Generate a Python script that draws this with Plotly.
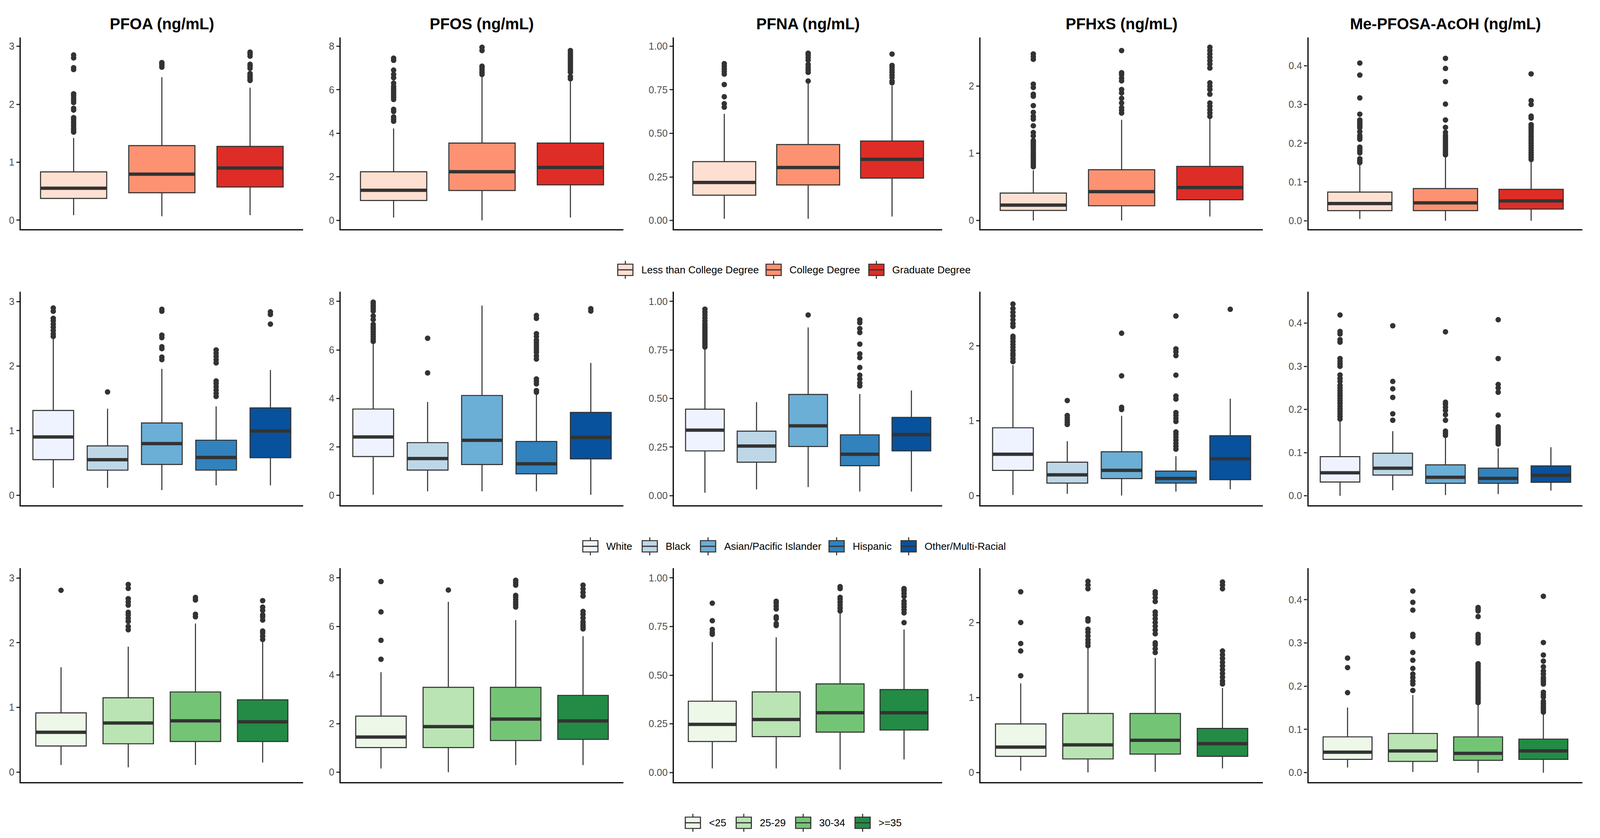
import plotly.graph_objects as go

# ---------------- data ----------------
analytes = ["PFOA", "PFOS", "PFNA", "PFHxS", "Me-PFOSA-AcOH"]

education = ["Less than College Degree", "College Degree", "Graduate Degree"]
race = ["White", "Black", "Asian/Pacific Islander", "Hispanic", "Other/Multi-Racial"]
age = ["<25", "25-29", "30-34", ">=35"]

reds = ["#FEE0D2", "#FC9272", "#DE2D26"]
blues = ["#EFF3FF", "#BDD7E7", "#6BAED6", "#3182BD", "#08519C"]
greens = ["#EDF8E9", "#BAE4B3", "#74C476", "#238B45"]

tick_vals = [[0, 1, 2, 3], [0, 2, 4, 6, 8], [0, 0.25, 0.5, 0.75, 1.0], [0, 1, 2], [0, 0.1, 0.2, 0.3, 0.4]]
tick_text = [["0", "1", "2", "3"], ["0", "2", "4", "6", "8"],
             ["0.00", "0.25", "0.50", "0.75", "1.00"], ["0", "1", "2"],
             ["0.0", "0.1", "0.2", "0.3", "0.4"]]
y_ranges = [[-0.155, 3.152], [-0.41, 8.4], [-0.05, 1.05], [-0.13, 2.725], [-0.022, 0.473]]

# education: one list per analyte, one value per group
edu_low = [[0.088, 0.069, 0.088], [0.13, 0.0, 0.13], [0.010, 0.010, 0.023], [0.0, 0.0, 0.059], [0.0045, 0.0, 0.0]]
edu_q1 = [[0.376, 0.474, 0.573], [0.91, 1.37, 1.63], [0.145, 0.204, 0.243], [0.15, 0.219, 0.308], [0.026, 0.026, 0.030]]
edu_med = [[0.552, 0.794, 0.90], [1.38, 2.23, 2.43], [0.218, 0.304, 0.351], [0.229, 0.429, 0.491], [0.0443, 0.046, 0.051]]
edu_q3 = [[0.834, 1.287, 1.274], [2.23, 3.55, 3.55], [0.338, 0.436, 0.456], [0.409, 0.756, 0.805], [0.0738, 0.083, 0.081]]
edu_high = [[1.42, 2.467, 2.286], [4.22, 6.64, 6.41], [0.612, 0.786, 0.773], [0.746, 1.50, 1.516], [0.146, 0.166, 0.154]]
edu_out = [
    [[1.52, 1.55, 1.58, 1.62, 1.66, 1.70, 1.74, 1.77, 1.90, 1.93, 2.03, 2.07, 2.11, 2.15, 2.18, 2.60, 2.63, 2.80, 2.85],
     [2.64, 2.67, 2.70, 2.72],
     [2.41, 2.44, 2.47, 2.50, 2.53, 2.62, 2.66, 2.69, 2.83, 2.87, 2.90]],
    [[4.55, 4.65, 4.75, 5.0, 5.1, 5.55, 5.65, 5.75, 5.85, 5.95, 6.05, 6.15, 6.3, 6.55, 6.7, 6.9, 7.35, 7.45],
     [6.7, 6.8, 6.9, 7.0, 7.08, 7.8, 7.95],
     [6.5, 6.6, 6.8, 6.9, 7.0, 7.1, 7.2, 7.3, 7.4, 7.5, 7.6, 7.7, 7.8]],
    [[0.65, 0.67, 0.71, 0.78, 0.84, 0.855, 0.87, 0.885, 0.90],
     [0.80, 0.85, 0.865, 0.88, 0.895, 0.92, 0.935, 0.95, 0.96],
     [0.79, 0.80, 0.82, 0.835, 0.85, 0.865, 0.88, 0.89, 0.955]],
    [[0.80, 0.83, 0.86, 0.89, 0.92, 0.95, 0.98, 1.01, 1.04, 1.07, 1.10, 1.13, 1.16, 1.19, 1.26, 1.31, 1.41,
      1.51, 1.55, 1.61, 1.71, 1.85, 1.88, 1.98, 2.03, 2.40, 2.44, 2.48],
     [1.6, 1.64, 1.68, 1.75, 1.82, 1.9, 1.95, 2.08, 2.12, 2.17, 2.2, 2.53],
     [1.55, 1.6, 1.65, 1.7, 1.75, 1.88, 1.95, 2.0, 2.05, 2.27, 2.33, 2.38, 2.43, 2.48, 2.53, 2.58]],
    [[0.15, 0.155, 0.16, 0.175, 0.18, 0.185, 0.19, 0.21, 0.215, 0.22, 0.23, 0.24, 0.245, 0.25, 0.255, 0.26,
      0.275, 0.317, 0.376, 0.407],
     [0.17, 0.175, 0.18, 0.185, 0.19, 0.195, 0.2, 0.205, 0.21, 0.215, 0.22, 0.228, 0.241, 0.26, 0.301, 0.359,
      0.393, 0.419],
     [0.158, 0.164, 0.17, 0.176, 0.182, 0.188, 0.194, 0.2, 0.206, 0.212, 0.218, 0.224, 0.23, 0.236, 0.242,
      0.248, 0.265, 0.27, 0.3, 0.31, 0.379]],
]

race_low = [[0.115, 0.115, 0.081, 0.154, 0.154], [0.025, 0.166, 0.166, 0.166, 0.025],
            [0.015, 0.032, 0.044, 0.021, 0.021], [0.008, 0.024, 0.0, 0.054, 0.084],
            [0.0, 0.0128, 0.0017, 0.004, 0.0121]]
race_q1 = [[0.551, 0.389, 0.477, 0.389, 0.581], [1.60, 1.04, 1.27, 0.89, 1.505],
           [0.230, 0.172, 0.253, 0.154, 0.230], [0.337, 0.167, 0.227, 0.167, 0.213],
           [0.0319, 0.048, 0.029, 0.029, 0.0312]]
race_med = [[0.903, 0.551, 0.80, 0.585, 0.995], [2.41, 1.518, 2.27, 1.30, 2.39],
            [0.337, 0.255, 0.359, 0.213, 0.314], [0.552, 0.277, 0.337, 0.229, 0.492],
            [0.0533, 0.064, 0.0429, 0.0405, 0.0474]]
race_q3 = [[1.313, 0.765, 1.12, 0.853, 1.353], [3.56, 2.175, 4.12, 2.22, 3.42],
           [0.445, 0.332, 0.521, 0.313, 0.403], [0.906, 0.446, 0.586, 0.327, 0.80],
           [0.0907, 0.0987, 0.0717, 0.064, 0.0693]]
race_high = [[2.447, 1.341, 1.958, 1.376, 1.94], [6.32, 3.85, 7.83, 4.16, 5.46],
             [0.760, 0.4815, 0.866, 0.523, 0.541], [1.743, 0.727, 1.066, 0.526, 1.295],
             [0.1756, 0.1496, 0.1347, 0.1098, 0.1126]]
race_out = [
    [[2.46, 2.5, 2.55, 2.6, 2.65, 2.7, 2.74, 2.85, 2.9],
     [1.6],
     [2.1, 2.14, 2.27, 2.3, 2.44, 2.48, 2.85, 2.88],
     [1.53, 1.58, 1.63, 1.68, 1.73, 1.77, 2.05, 2.1, 2.15, 2.2, 2.25],
     [2.65, 2.8, 2.84]],
    [[6.35, 6.45, 6.55, 6.65, 6.75, 6.85, 6.95, 7.05, 7.25, 7.4, 7.6, 7.7, 7.8, 7.9, 7.97],
     [5.05, 6.48],
     [],
     [4.25, 4.32, 4.6, 4.7, 4.8, 5.62, 5.75, 5.9, 6.0, 6.1, 6.2, 6.3, 6.4, 6.55, 6.67, 7.3, 7.42],
     [7.6, 7.7]],
    [[0.765, 0.775, 0.785, 0.795, 0.805, 0.815, 0.825, 0.835, 0.845, 0.855, 0.865, 0.875, 0.885, 0.9,
      0.915, 0.93, 0.945, 0.96],
     [],
     [0.93],
     [0.565, 0.58, 0.6, 0.62, 0.66, 0.71, 0.73, 0.78, 0.84, 0.86, 0.89, 0.905],
     []],
    [[1.79, 1.83, 1.87, 1.9, 1.94, 1.98, 2.02, 2.06, 2.1, 2.13, 2.26, 2.3, 2.35, 2.4, 2.45, 2.5, 2.56],
     [0.95, 0.98, 1.01, 1.04, 1.07, 1.27],
     [1.15, 1.18, 1.6, 2.17],
     [0.62, 0.66, 0.7, 0.74, 0.78, 0.82, 0.85, 0.99, 1.03, 1.07, 1.11, 1.29, 1.33, 1.61, 1.87, 1.92, 1.96, 2.4],
     [2.49]],
    [[0.178, 0.184, 0.19, 0.196, 0.202, 0.208, 0.214, 0.22, 0.226, 0.232, 0.238, 0.244, 0.25, 0.256, 0.265,
      0.272, 0.28, 0.3, 0.306, 0.312, 0.318, 0.356, 0.362, 0.375, 0.381, 0.419],
     [0.175, 0.19, 0.228, 0.248, 0.265, 0.394],
     [0.14, 0.145, 0.15, 0.175, 0.188, 0.198, 0.205, 0.212, 0.217, 0.38],
     [0.12, 0.125, 0.13, 0.135, 0.14, 0.145, 0.15, 0.155, 0.16, 0.187, 0.24, 0.25, 0.258, 0.318, 0.408],
     []],
]

age_low = [[0.111, 0.074, 0.111, 0.15], [0.154, 0.0, 0.295, 0.295], [0.021, 0.021, 0.015, 0.067],
           [0.024, 0.0, 0.008, 0.054], [0.0118, 0.0014, 0.0, 0.0]]
age_q1 = [[0.404, 0.438, 0.473, 0.473], [1.015, 1.015, 1.305, 1.354], [0.159, 0.184, 0.207, 0.218],
          [0.214, 0.180, 0.244, 0.214], [0.0308, 0.026, 0.0284, 0.0308]]
age_med = [[0.616, 0.759, 0.792, 0.778], [1.446, 1.877, 2.185, 2.11], [0.247, 0.272, 0.307, 0.307],
           [0.337, 0.367, 0.429, 0.383], [0.0474, 0.0502, 0.0447, 0.0502]]
age_q3 = [[0.916, 1.149, 1.239, 1.117], [2.31, 3.495, 3.495, 3.163], [0.366, 0.414, 0.455, 0.426],
          [0.647, 0.786, 0.786, 0.587], [0.0828, 0.0907, 0.0828, 0.0776]]
age_high = [[1.62, 1.939, 2.296, 2.026], [4.12, 7.015, 6.26, 5.6], [0.670, 0.694, 0.827, 0.735],
            [1.188, 1.67, 1.527, 1.126], [0.1506, 0.1797, 0.16, 0.1375]]
age_out = [
    [[2.81],
     [2.2, 2.25, 2.33, 2.38, 2.43, 2.47, 2.58, 2.63, 2.68, 2.84, 2.9],
     [2.4, 2.44, 2.66, 2.7],
     [2.05, 2.1, 2.15, 2.18, 2.35, 2.4, 2.43, 2.5, 2.55, 2.65]],
    [[4.65, 5.43, 6.6, 7.85],
     [7.5],
     [6.8, 6.9, 7.0, 7.1, 7.2, 7.28, 7.7, 7.8, 7.9],
     [5.9, 6.0, 6.1, 6.2, 6.35, 6.5, 6.62, 7.25, 7.4, 7.55, 7.7]],
    [[0.71, 0.72, 0.735, 0.78, 0.87],
     [0.755, 0.765, 0.79, 0.8, 0.84, 0.855, 0.87, 0.88],
     [0.83, 0.845, 0.86, 0.875, 0.89, 0.9, 0.945, 0.955],
     [0.77, 0.82, 0.835, 0.85, 0.865, 0.88, 0.905, 0.92, 0.935, 0.945]],
    [[1.29, 1.62, 1.72, 2.0, 2.41],
     [1.69, 1.73, 1.77, 1.82, 1.87, 1.91, 2.02, 2.05, 2.45, 2.5, 2.55],
     [1.6, 1.65, 1.7, 1.73, 1.85, 1.9, 1.95, 2.0, 2.05, 2.1, 2.14, 2.28, 2.33, 2.38, 2.41],
     [1.18, 1.22, 1.27, 1.32, 1.37, 1.42, 1.47, 1.52, 1.57, 1.62, 2.45, 2.5, 2.54]],
    [[0.185, 0.243, 0.265],
     [0.19, 0.205, 0.212, 0.22, 0.228, 0.241, 0.26, 0.278, 0.315, 0.32, 0.376, 0.394, 0.42],
     [0.162, 0.167, 0.172, 0.177, 0.182, 0.187, 0.192, 0.197, 0.202, 0.207, 0.212, 0.217, 0.222, 0.227,
      0.232, 0.237, 0.242, 0.247, 0.252, 0.3, 0.305, 0.31, 0.315, 0.32, 0.361, 0.374, 0.378, 0.382],
     [0.14, 0.145, 0.15, 0.155, 0.16, 0.165, 0.175, 0.18, 0.186, 0.205, 0.21, 0.215, 0.22, 0.228, 0.235,
      0.245, 0.258, 0.272, 0.301, 0.408]],
]

rows = [
    (education, reds, edu_low, edu_q1, edu_med, edu_q3, edu_high, edu_out),
    (race, blues, race_low, race_q1, race_med, race_q3, race_high, race_out),
    (age, greens, age_low, age_q1, age_med, age_q3, age_high, age_out),
]

# ---------------- layout (pixels) ----------------
W, H = 4214, 2146
FONT = "Liberation Sans, Arial, sans-serif"
DARK = "#333333"
col_px = [(54.5, 798), (897, 1642), (1775, 2482), (2582, 3326), (3446, 4168)]
row_px = [(96, 587), (747, 1294), (1455, 2003)]
legend_cy = [691, 1399, 2107]
legend_center = 2088
BOX_W = 0.75


def fx(px):
    return px / W


def fy(py):
    return 1 - py / H


# rough Arial advance widths (per 1000 em) for legend layout
AW = {" ": 278, "/": 278, "-": 333, "<": 584, ">": 584, "=": 584,
      "A": 667, "B": 667, "C": 722, "D": 722, "G": 778, "H": 722, "I": 278, "L": 556,
      "M": 833, "O": 778, "P": 667, "R": 722, "W": 944,
      "a": 556, "b": 556, "c": 500, "d": 556, "e": 556, "f": 278, "g": 556, "h": 556,
      "i": 222, "k": 500, "l": 222, "m": 833, "n": 556, "o": 556, "p": 556, "r": 333,
      "s": 500, "t": 278, "u": 556, "x": 500, "y": 500}


def text_w(s, size):
    return sum(AW.get(ch, 556) for ch in s) * size / 1000


fig = go.Figure()
layout_axes = {}
annotations = []
shapes = []

for r, (groups, colors, lo, q1, med, q3, hi, out) in enumerate(rows):
    n = len(groups)
    for c in range(len(analytes)):
        k = r * 5 + c + 1
        xname = "x" if k == 1 else f"x{k}"
        yname = "y" if k == 1 else f"y{k}"
        for i in range(n):
            pos = i + 1
            fig.add_trace(go.Box(
                x=[pos], q1=[q1[c][i]], median=[med[c][i]], q3=[q3[c][i]],
                lowerfence=[lo[c][i]], upperfence=[hi[c][i]],
                orientation="v", width=BOX_W, whiskerwidth=0, boxpoints=False,
                fillcolor=colors[i], line=dict(color=DARK, width=2.7),
                xaxis=xname, yaxis=yname, showlegend=False, hoverinfo="skip"))
            # thick median bar like ggplot
            fig.add_trace(go.Scatter(
                x=[pos - BOX_W / 2, pos + BOX_W / 2], y=[med[c][i], med[c][i]],
                mode="lines", line=dict(color=DARK, width=8.5),
                xaxis=xname, yaxis=yname, showlegend=False, hoverinfo="skip"))
            if out[c][i]:
                fig.add_trace(go.Scatter(
                    x=[pos] * len(out[c][i]), y=out[c][i], mode="markers",
                    marker=dict(color=DARK, size=14, line=dict(width=0)),
                    xaxis=xname, yaxis=yname, showlegend=False, hoverinfo="skip"))

        x0, x1 = col_px[c]
        y0, y1 = row_px[r]
        layout_axes["xaxis" if k == 1 else f"xaxis{k}"] = dict(
            domain=[fx(x0), fx(x1)], anchor=yname, range=[0.4, n + 0.6],
            showticklabels=False, ticks="", showgrid=False, zeroline=False,
            showline=True, linecolor="black", linewidth=3.2)
        layout_axes["yaxis" if k == 1 else f"yaxis{k}"] = dict(
            domain=[fy(y1), fy(y0)], anchor=xname, range=y_ranges[c],
            tickmode="array", tickvals=tick_vals[c], ticktext=tick_text[c],
            ticks="outside", ticklen=8, tickwidth=2.7, tickcolor=DARK,
            tickfont=dict(family=FONT, size=25, color="#4D4D4D"),
            showgrid=False, zeroline=False,
            showline=True, linecolor="black", linewidth=3.2)

        if r == 0:
            annotations.append(dict(
                text=analytes[c] + " (ng/mL)", x=fx((x0 + x1) / 2), y=fy(61),
                xref="paper", yref="paper", xanchor="center", yanchor="middle",
                showarrow=False, font=dict(family=FONT, size=40, color="black", weight="bold")))

    # legend for this row, drawn like ggplot keys
    fs = 26
    key_w, key_h, gap_t, gap_e = 40, 29, 20, 30
    widths = [key_w + gap_t + text_w(g, fs) for g in groups]
    total = sum(widths) + gap_e * (n - 1)
    xs = legend_center - total / 2
    cy = legend_cy[r]
    for i, g in enumerate(groups):
        kx0, kx1 = xs, xs + key_w
        kxm = (kx0 + kx1) / 2
        shapes.append(dict(type="line", xref="paper", yref="paper",
                           x0=fx(kxm), x1=fx(kxm), y0=fy(cy - 23), y1=fy(cy + 23),
                           line=dict(color=DARK, width=2.7), layer="above"))
        shapes.append(dict(type="rect", xref="paper", yref="paper",
                           x0=fx(kx0), x1=fx(kx1), y0=fy(cy - key_h / 2), y1=fy(cy + key_h / 2),
                           fillcolor=colors[i], line=dict(color=DARK, width=2.7), layer="above"))
        shapes.append(dict(type="line", xref="paper", yref="paper",
                           x0=fx(kx0), x1=fx(kx1), y0=fy(cy), y1=fy(cy),
                           line=dict(color=DARK, width=3), layer="above"))
        annotations.append(dict(
            text=g, x=fx(kx1 + gap_t), y=fy(cy), xref="paper", yref="paper",
            xanchor="left", yanchor="middle", showarrow=False,
            font=dict(family=FONT, size=fs, color="black")))
        xs += widths[i] + gap_e

fig.update_layout(
    width=W, height=H,
    margin=dict(l=0, r=0, t=0, b=0),
    paper_bgcolor="white", plot_bgcolor="white",
    showlegend=False,
    annotations=annotations,
    shapes=shapes,
    **layout_axes,
)

# drop the page margin and fit the figure to the visible window
fit_js = ("document.body.style.margin='0';document.body.style.overflow='hidden';"
          "var gd=document.getElementById('{plot_id}');"
          "var vw=document.documentElement.clientWidth, vh=document.documentElement.clientHeight;"
          "if(vw>0 && vh>0 && (vw<" + str(W) + " || vh<" + str(H) + ")){"
          "Plotly.relayout(gd,{width:Math.min(vw," + str(W) + "),height:Math.min(vh," + str(H) + ")});}")

fig.write_html("out.html", config={"displayModeBar": False}, post_script=fit_js)
